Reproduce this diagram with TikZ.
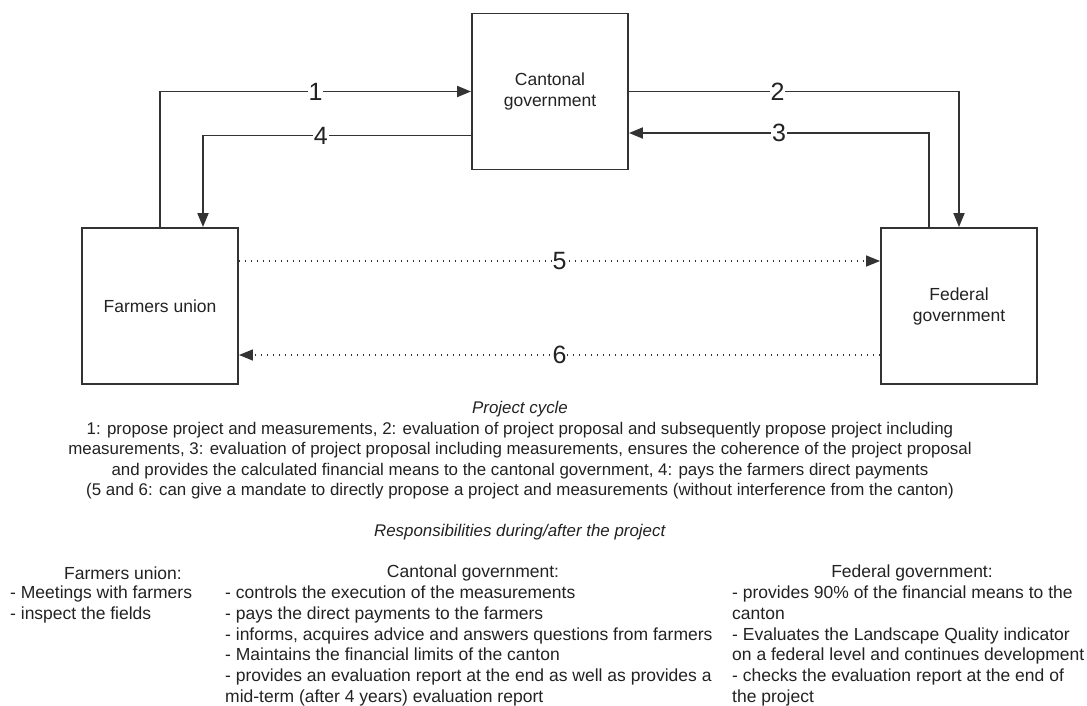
\documentclass[tikz,border=0pt]{standalone}
\usepackage{fontspec}
\setmainfont{Liberation Sans}
\usetikzlibrary{arrows.meta}
\definecolor{lnA}{HTML}{333333}
\definecolor{txA}{HTML}{222222}
\tikzset{
  actor/.style={draw=lnA,line width=1.9pt,minimum width=156pt,minimum height=156pt,
    inner sep=0pt,align=center,text=txA,font=\fontsize{17.5}{21}\selectfont},
  flow/.style={draw=lnA,line width=1.9pt,-{Triangle[length=14pt,width=11pt]}},
  mandate/.style={flow,line width=1.5pt,dash pattern=on 1.5pt off 4.5pt},
  stepnum/.style={fill=white,inner sep=1pt,text=txA,font=\fontsize{25}{25}\selectfont},
  body/.style={inner sep=0pt,text=txA,font=\fontsize{17.5}{20.7}\selectfont}
}

\begin{document}
\begin{tikzpicture}[x=1pt,y=-1pt,line join=miter]
  \useasboundingbox (0,0) rectangle (1087,706);

  % the three actors
  \node[actor] (canton)  at (550,91.5) {Cantonal\\government};
  \node[actor] (farmers) at (160,306)  {Farmers union};
  \node[actor] (federal) at (959,306)  {Federal\\government};

  % project cycle
  \draw[flow] (farmers.north) |- node[stepnum,pos=0.75] {1} (canton.west);
  \draw[flow] (canton.east) -| node[stepnum,pos=0.225] {2} (federal.north);
  \draw[flow] ([xshift=-30pt]federal.north) |- node[stepnum,pos=0.75] {3}
    ([yshift=-41.5pt]canton.east);
  \draw[flow] ([yshift=-44pt]canton.west) -| node[stepnum,pos=0.28] {4}
    ([xshift=43pt]farmers.north);

  % direct mandate, bypassing the canton
  \draw[mandate] ([yshift=45pt]farmers.east) -- node[stepnum] {5} ([yshift=45pt]federal.west);
  \draw[mandate] ([yshift=-49pt]federal.west) -- node[stepnum] {6} ([yshift=-49pt]farmers.east);

  \node[body,align=center,anchor=north,font=\fontsize{16.9}{20.6}\selectfont] (cycle) at (520,401) {%
    \textit{Project cycle}\\
    1: propose project and measurements, 2: evaluation of project proposal and subsequently propose project including\\
    measurements, 3: evaluation of project proposal including measurements, ensures the coherence of the project proposal\\
    and provides the calculated financial means to the cantonal government, 4: pays the farmers direct payments\\
    (5 and 6: can give a mandate to directly propose a project and measurements (without interference from the canton)};

  \node[body,font=\fontsize{16.9}{20.6}\selectfont] (resp) at (520,532) {\textit{Responsibilities during/after the project}};

  % responsibilities, one column per actor
  \node[body] (farmershead) at (123,573) {Farmers union:};
  \node[body] (cantonhead)  at (473,573) {Cantonal government:};
  \node[body] (federalhead) at (912,573) {Federal government:};

  \node[body,align=left,anchor=north west] (farmerslist) at (10,586) {%
    - Meetings with farmers\\
    - inspect the fields};
  \node[body,align=left,anchor=north west] (cantonlist) at (225,586) {%
    - controls the execution of the measurements\\
    - pays the direct payments to the farmers\\
    - informs, acquires advice and answers questions from farmers\\
    - Maintains the financial limits of the canton\\
    - provides an evaluation report at the end as well as provides a\\
    mid-term (after 4 years) evaluation report};
  \node[body,align=left,anchor=north west] (federallist) at (732,586) {%
    - provides 90\% of the financial means to the\\
    canton\\
    - Evaluates the Landscape Quality indicator\\
    on a federal level and continues development\\
    - checks the evaluation report at the end of\\
    the project};

\end{tikzpicture}
\end{document}
